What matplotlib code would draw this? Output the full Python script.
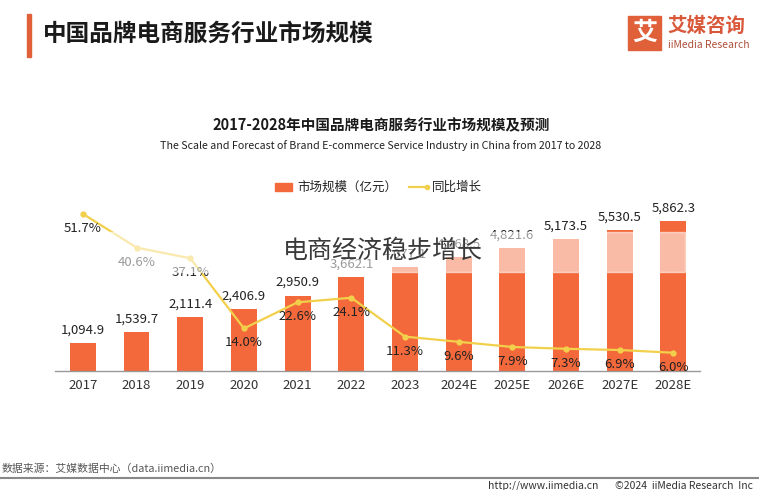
import matplotlib
matplotlib.use("Agg")
import matplotlib.pyplot as plt
from matplotlib.patches import Rectangle
from matplotlib.lines import Line2D

plt.rcParams['font.family'] = ['Noto Sans CJK SC', 'DejaVu Sans']

# 数据
years = ["2017", "2018", "2019", "2020", "2021", "2022", "2023",
         "2024E", "2025E", "2026E", "2027E", "2028E"]
scale = [1094.9, 1539.7, 2111.4, 2406.9, 2950.9, 3662.1, 4077.1,
         4468.5, 4821.6, 5173.5, 5530.5, 5862.3]
growth = [51.7, 40.6, 37.1, 14.0, 22.6, 24.1, 11.3, 9.6, 7.9, 7.3, 6.9, 6.0]

bar_color = "#F4693B"
line_color = "#F2D04B"

fig = plt.figure(figsize=(7.59, 4.9), dpi=100)
fig.patch.set_facecolor("white")

ax = fig.add_axes([0.0725, 0.2429, 0.85, 0.369])
x = list(range(len(years)))
ax.bar(x, scale, width=0.48, color=bar_color, zorder=2)
ax.set_xlim(-0.52, 11.5)
ax.set_ylim(0, 7070)
for xi, v in zip(x, scale):
    ax.text(xi, v + 250, f"{v:,.1f}", ha="center", va="bottom",
            fontsize=9.5, color="#222222")
ax.set_yticks([])
ax.set_xticks(x)
ax.set_xticklabels(years, fontsize=9.5, color="#333333")
ax.tick_params(axis="x", length=0, pad=6)
for s in ["top", "right", "left"]:
    ax.spines[s].set_visible(False)
ax.spines["bottom"].set_color("#999999")
ax.spines["bottom"].set_linewidth(1)

ax2 = ax.twinx()
ax2.plot(x, growth, color=line_color, linewidth=1.6, marker="o",
         markersize=3.5, zorder=3)
ax2.set_ylim(0, 59.5)
ax2.axis("off")
for xi, g in zip(x, growth):
    ax2.text(xi, g - 2.6, f"{g:.1f}%", ha="center", va="top",
             fontsize=9.5, color="#222222")

# 顶部标题
fig.patches.append(Rectangle((27 / 759, 1 - 57 / 490), 4 / 759, 43 / 490,
                             transform=fig.transFigure, color="#E0603A"))
fig.text(43 / 759, 1 - 34 / 490, "中国品牌电商服务行业市场规模",
         fontsize=17, fontweight="bold", color="#1a1a1a", va="center")

# logo
fig.patches.append(Rectangle((628 / 759, 1 - 50 / 490), 33 / 759, 34 / 490,
                             transform=fig.transFigure, color="#E0603A"))
fig.text(644.5 / 759, 1 - 33 / 490, "艾", fontsize=18, fontweight="bold",
         color="white", ha="center", va="center")
fig.text(667 / 759, 1 - 26 / 490, "艾媒咨询", fontsize=14, fontweight="bold",
         color="#D9583A", va="center")
fig.text(668 / 759, 1 - 45 / 490, "iiMedia Research", fontsize=7.5,
         color="#B0503A", va="center")

# 图表标题
fig.text(381 / 759, 1 - 125 / 490, "2017-2028年中国品牌电商服务行业市场规模及预测",
         fontsize=10.5, fontweight="bold", color="#1a1a1a", ha="center", va="center")
fig.text(381 / 759, 1 - 146 / 490,
         "The Scale and Forecast of Brand E-commerce Service Industry in China from 2017 to 2028",
         fontsize=7.7, color="#222222", ha="center", va="center")

# 图例
fig.patches.append(Rectangle((275 / 759, 1 - 191 / 490), 17 / 759, 8 / 490,
                             transform=fig.transFigure, color=bar_color))
fig.text(297 / 759, 1 - 187 / 490, "市场规模（亿元）", fontsize=9, color="#222222",
         va="center")
fig.lines.append(Line2D([409 / 759, 427 / 759], [1 - 187 / 490, 1 - 187 / 490],
                        transform=fig.transFigure, color=line_color, linewidth=1.6,
                        marker="o", markersize=3, markevery=[1]))
fig.text(432 / 759, 1 - 187 / 490, "同比增长", fontsize=9, color="#222222",
         va="center")

# 水印
fig.patches.append(Rectangle((90 / 759, 1 - 272 / 490), 595 / 759, 40 / 490,
                             transform=fig.transFigure, color="white",
                             alpha=0.55, zorder=10))
fig.text(383 / 759, 1 - 251 / 490, "电商经济稳步增长", fontsize=18,
         fontweight="light", color="#3a3a3a", ha="center", va="center", zorder=11)

# 底部
fig.text(2 / 759, 1 - 469 / 490, "数据来源：艾媒数据中心（data.iimedia.cn）",
         fontsize=7.8, color="#555555", va="center")
fig.lines.append(Line2D([0, 1], [1 - 478 / 490, 1 - 478 / 490],
                        transform=fig.transFigure, color="#888888", linewidth=1.5))
fig.text(488 / 759, 1 - 486 / 490, "http://www.iimedia.cn", fontsize=7.5,
         color="#333333", va="center")
fig.text(615 / 759, 1 - 486 / 490, "©2024  iiMedia Research  Inc", fontsize=7.5,
         color="#333333", va="center")

fig.savefig("out.png", dpi=100)
